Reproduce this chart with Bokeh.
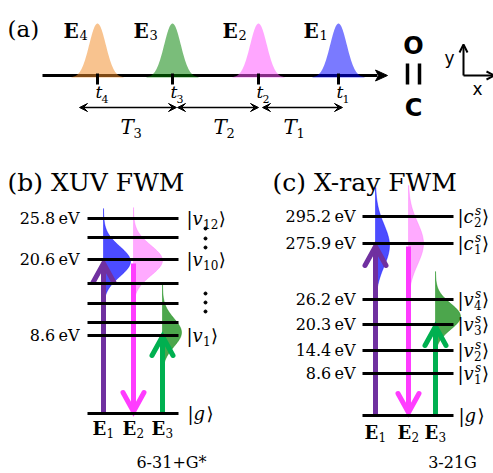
import numpy as np
from bokeh.plotting import figure
from bokeh.models import Range1d, Arrow, VeeHead, OpenHead
from bokeh.core.properties import value
from bokeh.embed import file_html
from bokeh.resources import INLINE

# ---------------- data ----------------
pulse_ids = ["4", "3", "2", "1"]              # E4 ... E1 along the time axis
pulse_colors = ["#f28c28", "#008000", "#ff55ff", "#0000ff"]
delay_ids = ["3", "2", "1"]                   # T3, T2, T1
field_ids = ["1", "2", "3"]                   # E1, E2, E3 in (b),(c)
field_colors = ["#7030a0", "#ff3cff", "#00b050"]

xuv_energies = ["25.8", "20.6", "8.6"]
xuv_states = ["12", "10", "1"]
xray_energies = ["295.2", "275.9", "26.2", "20.3", "14.4", "8.6"]
xray_states = [("c", "2"), ("c", "1"), ("v", "4"), ("v", "3"), ("v", "2"), ("v", "1")]
basis_b = "6-31+G*"
basis_c = "3-21G"

SERIF = "DejaVu Serif"
SANS = "DejaVu Sans"

p = figure(width=493, height=473, output_backend="svg", toolbar_location=None,
           x_range=Range1d(0, 493), y_range=Range1d(473, 0), min_border=0)
p.axis.visible = False
p.xgrid.visible = False
p.ygrid.visible = False
p.outline_line_color = None
p.background_fill_color = "white"
p.border_fill_color = "white"


def txt(x, y, s, size, font=SERIF, style="normal", align="left", color="black", baseline="middle"):
    p.text(x=[x], y=[y], text=[s], text_font=value(font), text_font_size=f"{size}px",
           text_font_style=style, text_align=align, text_baseline=baseline, text_color=color)


def sub_label(x, y, main, sub, size, style="bold", sub_size=None, sub_dx=None, sub_dy=5):
    sub_size = sub_size or round(size * 0.68)
    txt(x, y, main, size, style=style)
    txt(x + (sub_dx if sub_dx is not None else size * 0.72), y + sub_dy, sub, sub_size)


def ket(x0, y, letter, sub=None, sup=None, size=18):
    txt(x0, y, "|", size)
    txt(x0 + 6, y, letter, size, style="italic")
    sx = x0 + 16.5
    w = 0
    if sub:
        txt(sx, y + 5, sub, 12)
        w = len(sub) * 7.6
    if sup:
        txt(sx + 1, y - 6, sup, 12, style="italic")
        w = max(w, 7)
    if not sub and not sup:
        w = 2
    txt(sx + w + 0.5, y, "\u27e9", size, font=SANS)


def vgauss(bx, py, amp, sig, color, alpha, span=53):
    yy = np.linspace(py - span, py + span, 120)
    xx = bx + amp * np.exp(-(yy - py) ** 2 / (2 * sig ** 2))
    p.patch(np.concatenate([[bx], xx, [bx]]), np.concatenate([[yy[0]], yy, [yy[-1]]]),
            fill_color=color, fill_alpha=alpha, line_color=color, line_alpha=alpha * 0.6, line_width=1)


def level_arrow(x, y_from, y_to, color):
    d = 1 if y_to > y_from else -1
    p.line([x, x], [y_from, y_to - d * 1], line_color=color, line_width=5)
    p.line([x - 10.5, x, x + 10.5], [y_to - d * 19, y_to, y_to - d * 19],
           line_color=color, line_width=5, line_cap="round", line_join="miter")


# ---------------- panel (a) ----------------
txt(7, 28, "(a)", 23)
base_y = 75
pulse_x = [97, 172, 258, 338]
p.line([42, 377], [base_y, base_y], line_color="black", line_width=3)
p.patch([375, 387, 375, 378], [69.5, 75, 80.5, 75], fill_color="black", line_color="black")
for cx, col in zip(pulse_x, pulse_colors):
    t = np.linspace(-26, 26, 120)
    ys = base_y + 2 - 54 * np.exp(-t ** 2 / (2 * 8.3 ** 2))
    p.patch(np.concatenate([[cx - 26], cx + t, [cx + 26]]),
            np.concatenate([[base_y + 2], ys, [base_y + 2]]),
            fill_color=col, fill_alpha=0.52, line_color=None)
p.segment(x0=pulse_x, y0=[73] * 4, x1=pulse_x, y1=[84] * 4, line_color="black", line_width=3)
e_label_x = [63, 133, 222, 303]
for lx, pid in zip(e_label_x, pulse_ids):
    sub_label(lx, 30, "E", pid, 20, sub_dx=16, sub_dy=4, sub_size=13)
for cx, pid in zip(pulse_x, pulse_ids):
    txt(cx - 2, 91, "t", 17, style="italic")
    txt(cx + 4, 98, pid, 11)
delay_spans = [(79, 176), (177, 258), (262, 342)]
T_label_x = [120, 213, 283]
for (a, b), lx, did in zip(delay_spans, T_label_x, delay_ids):
    p.add_layout(Arrow(x_start=a, y_start=107, x_end=b, y_end=107, line_width=1.5,
                       start=VeeHead(size=8, fill_color="black", line_color="black"),
                       end=VeeHead(size=8, fill_color="black", line_color="black")))
    txt(lx, 126, "T", 20, style="italic")
    txt(lx + 13, 132, did, 13)

# O=C and axes glyph
txt(413, 45, "O", 24, font=SANS, style="bold", align="center")
txt(413, 107, "C", 24, font=SANS, style="bold", align="center")
p.segment(x0=[407, 419], y0=[63, 63], x1=[407, 419], y1=[84, 84], line_color="black", line_width=3.5)
p.add_layout(Arrow(x_start=463, y_start=75, x_end=463, y_end=44, line_width=2,
                   end=OpenHead(size=8, line_width=2)))
p.add_layout(Arrow(x_start=463, y_start=75, x_end=494, y_end=75, line_width=2,
                   end=OpenHead(size=8, line_width=2)))
txt(449, 57, "y", 17, font=SANS, align="center")
txt(477, 88, "x", 17, font=SANS, align="center")

# ---------------- panel (b) ----------------
txt(7, 182, "(b) XUV FWM", 25)
lev_b = [218, 237, 259, 283, 303, 322, 335, 413]
lab_b = [0, 2, 6]
arrow_x_b = [103, 133, 162]
vgauss(arrow_x_b[0], 261, 27, 15, "#0000ff", 0.7)
vgauss(arrow_x_b[1], 260, 29, 15, "#ff55ff", 0.5)
vgauss(arrow_x_b[2], 332, 19, 14, "#008000", 0.7, span=48)
level_arrow(arrow_x_b[0], 413, 263, field_colors[0])
level_arrow(arrow_x_b[1], 263, 411, field_colors[1])
level_arrow(arrow_x_b[2], 413, 336, field_colors[2])
p.segment(x0=[87] * len(lev_b), y0=lev_b, x1=[178] * len(lev_b), y1=lev_b,
          line_color="black", line_width=3)
for i, e in zip(lab_b, xuv_energies):
    txt(79, lev_b[i], e + "\u2009eV", 16, align="right")
for i, s in zip(lab_b, xuv_states):
    ket(186, lev_b[i], "v", sub=s)
ket(187, lev_b[-1], "g")
p.scatter(x=[205] * 6, y=[228, 238, 247, 293, 302, 311], size=3, color="black")
for ax, fid in zip(arrow_x_b, field_ids):
    sub_label(ax - 11, 428, "E", fid, 18, sub_dx=14, sub_dy=4, sub_size=12)
txt(171, 462, basis_b, 16, align="center")

# ---------------- panel (c) ----------------
txt(272, 182, "(c) X-ray FWM", 25)
lev_c = [216, 243, 299, 324, 350, 373, 415]
arrow_x_c = [375, 408, 435]
vgauss(arrow_x_c[0], 245, 14, 21, "#0000ff", 0.7, span=58)
vgauss(arrow_x_c[1], 243, 15, 21, "#ff55ff", 0.5, span=58)
vgauss(arrow_x_c[2], 316, 25, 13, "#008000", 0.7, span=45)
level_arrow(arrow_x_c[0], 415, 246, field_colors[0])
level_arrow(arrow_x_c[1], 246, 412, field_colors[1])
level_arrow(arrow_x_c[2], 415, 326, field_colors[2])
p.segment(x0=[362] * len(lev_c), y0=lev_c, x1=[453] * len(lev_c), y1=lev_c,
          line_color="black", line_width=3)
for yv, e in zip(lev_c[:-1], xray_energies):
    txt(355, yv, e + "\u2009eV", 16, align="right")
for yv, (letter, s) in zip(lev_c[:-1], xray_states):
    ket(457, yv, letter, sub=s, sup="s")
ket(458, lev_c[-1], "g")
for ax, fid in zip(arrow_x_c, field_ids):
    sub_label(ax - 11, 432, "E", fid, 18, sub_dx=14, sub_dy=4, sub_size=12)
txt(452, 462, basis_c, 16, align="center")

open("out.html", "w").write(file_html(p, INLINE))
